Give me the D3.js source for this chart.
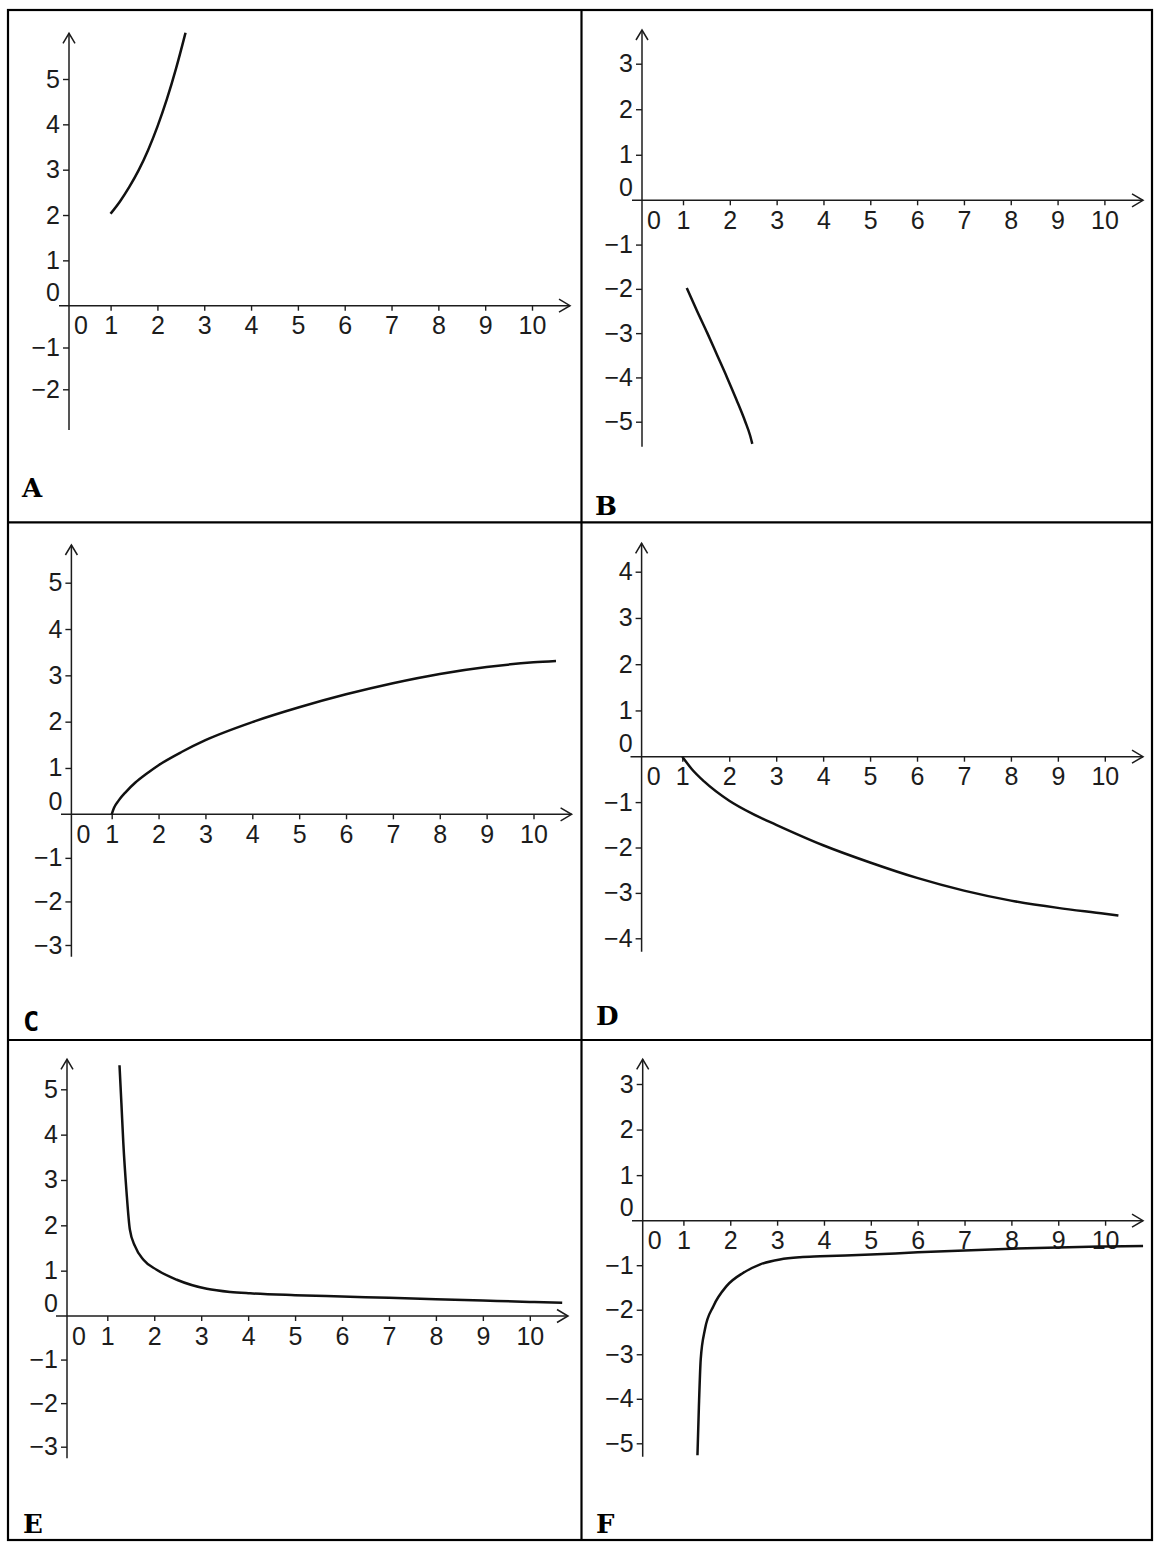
<!DOCTYPE html>
<html>
<head>
<meta charset="utf-8">
<script src="https://cdn.jsdelivr.net/npm/d3@7"></script>
<style>
body { margin: 0; background: #fff; }
</style>
</head>
<body>
<script>
const width = 1155;
const height = 1545;

// tick labels
const xTicks = [1, 2, 3, 4, 5, 6, 7, 8, 9, 10];
const yTicksA = [-2, -1, 1, 2, 3, 4, 5];
const yTicksB = [-5, -4, -3, -2, -1, 1, 2, 3];
const yTicksC = [-3, -2, -1, 1, 2, 3, 4, 5];
const yTicksD = [-4, -3, -2, -1, 1, 2, 3, 4];
const yTicksE = [-3, -2, -1, 1, 2, 3, 4, 5];
const yTicksF = [-5, -4, -3, -2, -1, 1, 2, 3];

// curves
const aX = [1.0, 1.2, 1.4, 1.6, 1.8, 2.0, 2.2, 2.4, 2.6];
const aY = [2.03, 2.3, 2.62, 2.99, 3.43, 3.95, 4.55, 5.24, 6.02];

const bX = [1.08, 1.3, 1.52, 1.73, 1.94, 2.14, 2.33, 2.43, 2.48];
const bY = [-1.98, -2.5, -3.0, -3.5, -4.0, -4.5, -5.0, -5.3, -5.5];

const cX = [1.0, 1.05, 1.15, 1.3, 1.5, 1.75, 2.0, 2.5, 3, 4, 5, 6, 7, 8, 9, 10, 10.48];
const cY = [0, 0.14, 0.3, 0.48, 0.68, 0.88, 1.06, 1.35, 1.6, 1.99, 2.31, 2.59, 2.83, 3.03, 3.18, 3.28, 3.31];

const dX = [1.0, 1.2, 1.47, 2, 2.5, 3, 4, 5, 6, 7, 8, 9, 10, 10.29];
const dY = [0, -0.27, -0.55, -0.97, -1.26, -1.5, -1.95, -2.33, -2.67, -2.95, -3.17, -3.33, -3.46, -3.5];

const eX = [1.26, 1.3, 1.34, 1.41, 1.48, 1.59, 1.77, 2.05, 2.48, 3.12, 3.62, 4.04, 5, 6, 7, 8, 9, 10, 10.69];
const eY = [5.53, 4.7, 3.84, 2.73, 1.91, 1.54, 1.24, 1.02, 0.8, 0.6, 0.53, 0.5, 0.46, 0.43, 0.4, 0.37, 0.34, 0.31, 0.29];

const fX = [1.3, 1.33, 1.37, 1.46, 1.64, 1.92, 2.28, 2.64, 3.06, 3.49, 3.92, 5, 6, 7, 8, 9, 10, 10.81];
const fY = [-5.27, -4.2, -3.11, -2.44, -1.92, -1.47, -1.17, -0.98, -0.87, -0.82, -0.8, -0.76, -0.71, -0.67, -0.63, -0.6, -0.58, -0.57];

const names = ['A', 'B', 'C', 'D', 'E', 'F'];

// where each panel sits on the page (pixels)
const layout = [
    { ox: 69,    x1: 110.6, x10: 532,    yLo: 389.3,  y0: 305.7,  yHi: 79,     top: 33.3,   bot: 430,    left: 59,    right: 570,  lx: 22,  ly: 497 },
    { ox: 642,   x1: 683,   x10: 1104.4, yLo: 421.7,  y0: 200.3,  yHi: 63.7,   top: 30,     bot: 446.7,  left: 632,   right: 1143, lx: 595, ly: 515 },
    { ox: 71.4,  x1: 111.7, x10: 533.5,  yLo: 945,    y0: 814.3,  yHi: 582.7,  top: 545,    bot: 956.7,  left: 61,    right: 571.6, lx: 23, ly: 1031 },
    { ox: 641.6, x1: 682.3, x10: 1104.8, yLo: 938.3,  y0: 756.7,  yHi: 571.7,  top: 543.3,  bot: 951.7,  left: 630.5, right: 1143, lx: 596, ly: 1025 },
    { ox: 67,    x1: 107.3, x10: 529.8,  yLo: 1446.7, y0: 1316,   yHi: 1089.3, top: 1059.3, bot: 1458.3, left: 56,    right: 568,  lx: 23,  ly: 1533 },
    { ox: 642.7, x1: 683.4, x10: 1105.1, yLo: 1443.3, y0: 1220.7, yHi: 1084,   top: 1059.3, bot: 1456.7, left: 632,   right: 1143, lx: 596, ly: 1533 }
];

const yTickSets = [yTicksA, yTicksB, yTicksC, yTicksD, yTicksE, yTicksF];
const curves = [[aX, aY], [bX, bY], [cX, cY], [dX, dY], [eX, eY], [fX, fY]];

const ink = '#1c1c1c';
const numFont = '"Liberation Sans", Arial, sans-serif';
const numSize = 25;
const fmt = (d) => d < 0 ? '\u2212' + (-d) : String(d);

const svg = d3.select('body').append('svg').
    attr('width', width).
    attr('height', height);

// frame and dividers
const frame = svg.append('g').
    attr('fill', 'none').
    attr('stroke', '#000').
    attr('stroke-width', 2.2);

frame.append('rect').
    attr('x', 8).attr('y', 10).
    attr('width', 1144).attr('height', 1530);

frame.append('line').attr('x1', 581.5).attr('x2', 581.5).attr('y1', 10).attr('y2', 1540);
frame.append('line').attr('x1', 8).attr('x2', 1152).attr('y1', 522.3).attr('y2', 522.3);
frame.append('line').attr('x1', 8).attr('x2', 1152).attr('y1', 1040).attr('y2', 1040);

const drawPanel = (i) => {
    const p = layout[i];
    const yTicks = yTickSets[i];
    const yMin = d3.min(yTicks);
    const yMax = d3.max(yTicks);

    const xScale = d3.scaleLinear().
        domain([0, 1, 10]).
        range([p.ox, p.x1, p.x10]);

    const yScale = d3.scaleLinear().
        domain([yMin, 0, yMax]).
        range([p.yLo, p.y0, p.yHi]);

    const g = svg.append('g');

    // ticks and numbers
    const xAxis = d3.axisBottom(xScale).
        tickValues(xTicks).
        tickSize(5).
        tickPadding(6).
        tickFormat(fmt);

    const yAxis = d3.axisLeft(yScale).
        tickValues(yTicks).
        tickSize(6).
        tickPadding(3).
        tickFormat(fmt);

    const gx = g.append('g').
        attr('transform', `translate(0, ${p.y0})`).
        call(xAxis);

    const gy = g.append('g').
        attr('transform', `translate(${p.ox}, 0)`).
        call(yAxis);

    [gx, gy].forEach((a) => {
        a.select('.domain').remove();
        a.attr('font-size', numSize).attr('font-family', numFont);
        a.selectAll('line').attr('stroke', ink).attr('stroke-width', 1.4);
        a.selectAll('text').attr('fill', ink);
    });

    // the two zeros
    g.append('text').
        attr('x', p.ox + 12).
        attr('y', p.y0 + 11).
        attr('dy', '0.71em').
        attr('text-anchor', 'middle').
        attr('font-size', numSize).
        attr('font-family', numFont).
        attr('fill', ink).
        text('0');

    g.append('text').
        attr('x', p.ox - 9).
        attr('y', p.y0 - 12.5).
        attr('dy', '0.32em').
        attr('text-anchor', 'end').
        attr('font-size', numSize).
        attr('font-family', numFont).
        attr('fill', ink).
        text('0');

    // axis lines with open arrow heads
    const axes = g.append('g').
        attr('fill', 'none').
        attr('stroke', ink).
        attr('stroke-width', 1.5);

    axes.append('line').
        attr('x1', p.left).attr('x2', p.right).
        attr('y1', p.y0).attr('y2', p.y0);

    axes.append('path').
        attr('d', `M${p.right - 11},${p.y0 - 6.5}L${p.right},${p.y0}L${p.right - 11},${p.y0 + 6.5}`);

    axes.append('line').
        attr('x1', p.ox).attr('x2', p.ox).
        attr('y1', p.top).attr('y2', p.bot);

    axes.append('path').
        attr('d', `M${p.ox - 6},${p.top + 10}L${p.ox},${p.top}L${p.ox + 6},${p.top + 10}`);

    // the curve
    const [cx, cy] = curves[i];
    const pts = cx.map((x, k) => [x, cy[k]]);

    const line = d3.line().
        x((d) => xScale(d[0])).
        y((d) => yScale(d[1])).
        curve(d3.curveMonotoneX);

    g.append('path').
        datum(pts).
        attr('d', line).
        attr('fill', 'none').
        attr('stroke', '#111').
        attr('stroke-width', 2.5).
        attr('stroke-linecap', 'butt');

    // panel letter
    g.append('text').
        attr('x', p.lx).
        attr('y', p.ly).
        attr('font-size', names[i] === 'C' ? 27 : 26).
        attr('font-weight', 'bold').
        attr('font-family', names[i] === 'C' ? '"DejaVu Sans Mono", monospace' : '"DejaVu Serif", serif').
        attr('fill', '#000').
        text(names[i]);
};

names.forEach((n, i) => drawPanel(i));
</script>
</body>
</html>
